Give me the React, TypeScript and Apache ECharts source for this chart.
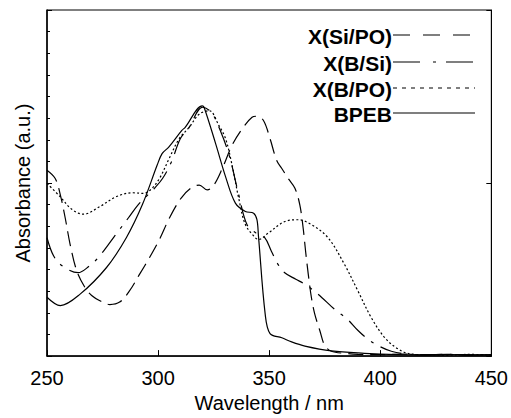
import React, { useEffect, useRef } from "react";
import * as echarts from "echarts";

const seriesNames = ["X(Si/PO)", "X(B/Si)", "X(B/PO)", "BPEB"];

const siPoWl = [250, 253.7, 256, 258.2, 260.4, 263.4, 267.1, 270.1, 273.8, 278.3, 282.7, 287.2, 291.7, 296.1, 300.6, 305.1, 310.3, 314.7, 318.5, 322.2, 325.1, 328.9, 333.3, 337.8, 342.3, 344.5, 347.5, 350.4, 353.4, 355.7, 358.6, 361.6, 363.8, 365.3, 366.4, 367.6, 369, 370.5, 372.8, 375, 378, 384, 390, 400, 410, 420, 430, 440, 450];
const siPoVal = [53.7, 51.3, 46.6, 39.9, 32.3, 24.6, 19.8, 17.5, 16.0, 14.9, 15.6, 18.9, 23.7, 28.4, 33.7, 39.9, 45.6, 48.5, 49.4, 48.0, 49.4, 54.2, 60.9, 65.6, 69.0, 69.3, 68.0, 62.8, 56.5, 54.2, 51.3, 48.5, 43.7, 37.0, 30.3, 23.7, 17.0, 12.2, 7.4, 3.1, 1.4, 0.8, 0.5, 0.4, 0.6, 0.3, 0.5, 0.3, 0.4];

const bSiWl = [250, 253, 257, 264, 269, 273, 277.7, 282.1, 286.6, 291, 295.4, 298.4, 302, 306, 310, 314, 320, 324, 328, 332, 336, 340, 344, 348, 351, 354, 357, 362, 366, 372, 380, 385, 390, 395, 400, 405, 412, 420, 430, 440, 450];
const bSiVal = [34.2, 28.9, 26.0, 24.1, 26.0, 28.4, 32.3, 36.1, 39.9, 43.7, 46.6, 48.5, 51.3, 56.1, 62.8, 66.1, 71.9, 70.4, 65.2, 58.0, 47.5, 38.0, 35.6, 34.2, 30.3, 26.5, 24.1, 22.2, 20.8, 17.9, 13.2, 10.8, 7.4, 4.6, 2.7, 1.4, 0.6, 0.4, 0.5, 0.3, 0.4];

const bPoWl = [250, 256, 261, 266.4, 273.8, 281.3, 288.7, 293.2, 296.5, 300.6, 305, 309.5, 314, 318.5, 323, 327.4, 330.4, 333.3, 336.3, 339.3, 343.8, 345.2, 349.7, 357.1, 363.1, 369, 376.5, 383.9, 389.9, 395.8, 401.8, 407.7, 413.7, 420, 430, 440, 450];
const bPoVal = [49.9, 46.0, 42.5, 41.0, 43.2, 46.1, 47.2, 47.0, 48.0, 51.3, 57.1, 62.8, 66.1, 69.9, 70.9, 66.6, 62.8, 55.2, 45.6, 38.0, 34.2, 33.7, 35.6, 38.9, 39.4, 38.0, 34.2, 26.5, 18.9, 11.3, 5.5, 2.2, 0.6, 0.4, 0.3, 0.5, 0.3];

const bpebWl = [250, 256, 264.9, 276.8, 285.7, 292.9, 299.6, 301.8, 304.8, 310.7, 312.2, 319.9, 320.7, 325.9, 330.4, 334.8, 339.3, 343.0, 344.5, 345.2, 348.2, 350.4, 355.7, 360.1, 366.1, 378, 392.9, 407.7, 420, 435, 450];
const bpebVal = [17.0, 14.6, 17.9, 25.6, 34.2, 43.7, 55.2, 58.5, 60.4, 65.2, 66.1, 72.3, 71.9, 61.4, 51.8, 44.2, 41.8, 41.3, 39.4, 34.6, 12.2, 6.5, 5.3, 4.1, 2.9, 1.5, 0.8, 0.4, 0.3, 0.4, 0.3];

const xTicks = [250, 300, 350, 400, 450];

const pair = (w: number[], v: number[]) => w.map((x, i) => [x, v[i]]);

export default function App() {
  const ref = useRef<HTMLDivElement>(null);
  useEffect(() => {
    if (!ref.current) return;
    const chart = echarts.init(ref.current, null, { renderer: "svg" });
    const font = "'Liberation Sans', Arial, sans-serif";
    const curveDash: (number[] | null)[] = [[15, 7], [22, 8, 3, 8], [2, 2.3], null];
    const legendDash: (number[] | null)[] = [[17, 13], [27, 13, 3, 10], [4, 5], null];
    const rowY = [35, 62, 88, 113];
    const mk = (name: string, data: number[][], dash: number[] | null) => ({
      name,
      type: "line",
      data,
      smooth: 0.35,
      symbol: "none",
      showSymbol: false,
      lineStyle: { color: "#000", width: 1.2, type: dash ? dash : "solid" },
      itemStyle: { color: "#000" },
    });
    const legendEls: any[] = [];
    seriesNames.forEach((n, i) => {
      legendEls.push({
        type: "text",
        x: 392,
        y: rowY[i] + 1,
        style: { text: n, font: `bold 21px ${font}`, fill: "#000", align: "right", verticalAlign: "middle" },
      });
      legendEls.push({
        type: "line",
        shape: { x1: 393, y1: rowY[i], x2: 475, y2: rowY[i] },
        style: { stroke: "#000", lineWidth: 1.2, lineDash: legendDash[i] || undefined },
      });
    });
    chart.setOption({
      animation: false,
      backgroundColor: "#fff",
      grid: { left: 47, right: 16, top: 10, bottom: 59, show: true, borderColor: "#000", borderWidth: 1 },
      graphic: legendEls,
      xAxis: {
        type: "value",
        min: xTicks[0],
        max: xTicks[xTicks.length - 1],
        interval: 50,
        name: "Wavelength / nm",
        nameLocation: "middle",
        nameGap: 33,
        nameTextStyle: { fontFamily: font, fontSize: 20, color: "#000" },
        axisLine: { lineStyle: { color: "#000", width: 1.5 } },
        axisTick: { inside: true, length: 6, lineStyle: { color: "#000" } },
        axisLabel: { fontFamily: font, fontSize: 20, color: "#000", margin: 12 },
        splitLine: { show: false },
      },
      yAxis: [
        {
          type: "value",
          min: 0,
          max: 100,
          interval: 50,
          name: "Absorbance (a.u.)",
          nameLocation: "middle",
          nameGap: 14,
          nameTextStyle: { fontFamily: font, fontSize: 20, color: "#000" },
          axisLine: { show: true, lineStyle: { color: "#000", width: 1.5 } },
          axisTick: { show: true, inside: true, length: 5, lineStyle: { color: "#000" } },
          minorTick: { show: true, splitNumber: 8, length: 3, lineStyle: { color: "#000" } },
          axisLabel: { show: false },
          splitLine: { show: false },
        },
        {
          type: "value",
          position: "right",
          min: 0,
          max: 100,
          interval: 50,
          axisLine: { show: true, lineStyle: { color: "#000", width: 1 } },
          axisTick: { show: true, inside: true, length: 5, lineStyle: { color: "#000" } },
          axisLabel: { show: false },
          splitLine: { show: false },
        },
      ],
      series: [
        mk(seriesNames[0], pair(siPoWl, siPoVal), curveDash[0]),
        mk(seriesNames[1], pair(bSiWl, bSiVal), curveDash[1]),
        mk(seriesNames[2], pair(bPoWl, bPoVal), curveDash[2]),
        mk(seriesNames[3], pair(bpebWl, bpebVal), curveDash[3]),
      ],
    });
    return () => chart.dispose();
  }, []);
  return <div ref={ref} style={{ width: 511, height: 418, position: "absolute", left: 0, top: 0 }} />;
}
